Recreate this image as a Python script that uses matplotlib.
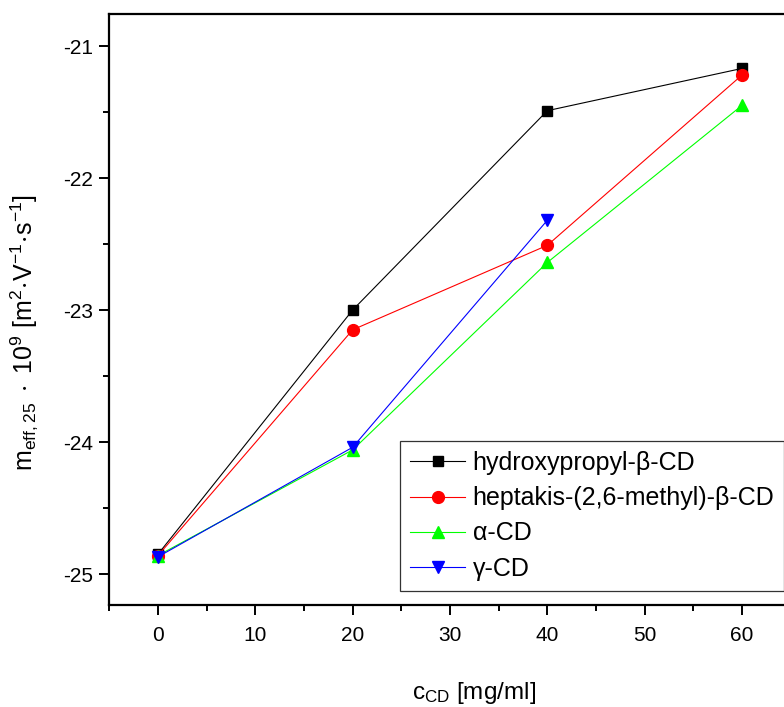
import matplotlib
matplotlib.use("Agg")
import matplotlib.pyplot as plt
from matplotlib.ticker import MultipleLocator

plt.rcParams['font.family'] = ['Liberation Sans', 'DejaVu Sans']
plt.rcParams['mathtext.fontset'] = 'custom'
plt.rcParams['mathtext.rm'] = 'Liberation Sans'
plt.rcParams['mathtext.it'] = 'Liberation Sans'
plt.rcParams['axes.unicode_minus'] = False

# Concentration of cyclodextrin [mg/ml]
conc = [0, 20, 40, 60]
conc_gamma = [0, 20, 40]

# Effective mobility values (x 1e9)
hp_beta = [-24.85, -23.00, -21.49, -21.17]
heptakis = [-24.86, -23.15, -22.51, -21.22]
alpha_cd = [-24.86, -24.06, -22.64, -21.45]
gamma_cd = [-24.87, -24.04, -22.32]

labels = ["hydroxypropyl-β-CD", "heptakis-(2,6-methyl)-β-CD", "α-CD", "γ-CD"]

fig = plt.figure(figsize=(7.84, 7.07), dpi=100)
x0, x1 = -5.0, 70.0
px_per_unit = (742 - 158) / 60.0
left_px = 158 + x0 * px_per_unit
right_px = 158 + x1 * px_per_unit
ax = fig.add_axes([left_px / 784, 1 - 605 / 707, (right_px - left_px) / 784, (605 - 14) / 707])

lw = 0.8
ax.plot(conc, hp_beta, color='black', marker='s', ms=7, lw=lw, label=labels[0])
ax.plot(conc, heptakis, color='red', marker='o', ms=8.5, lw=lw, label=labels[1])
ax.plot(conc, alpha_cd, color='#00ff00', marker='^', ms=9, lw=lw, label=labels[2])
ax.plot(conc_gamma, gamma_cd, color='blue', marker='v', ms=9, lw=lw, label=labels[3])

ax.set_xlim(x0, x1)
y_top = -21 + 32 / 132
y_bot = -25 - 31 / 132
ax.set_ylim(y_bot, y_top)

ax.xaxis.set_major_locator(MultipleLocator(10))
ax.xaxis.set_minor_locator(MultipleLocator(5))
ax.yaxis.set_major_locator(MultipleLocator(1))
ax.yaxis.set_minor_locator(MultipleLocator(0.5))
ax.set_xticks([0, 10, 20, 30, 40, 50, 60])

for s in ax.spines.values():
    s.set_linewidth(1.6)
ax.tick_params(which='both', direction='out', top=False, right=False, width=1.4, labelsize=15)
ax.tick_params(which='major', length=7)
ax.tick_params(axis='x', which='major', pad=8)
ax.tick_params(axis='y', which='major', pad=5)
ax.tick_params(which='minor', length=4)

ax.set_xlabel(r'$\mathregular{c_{CD}}$ [mg/ml]', fontsize=17.5, labelpad=25)
ax.set_ylabel(r'$\mathregular{m_{eff,25}\ \cdot\ 10^9\ [m^2\!\cdot\!V^{-1}\!\cdot\!s^{-1}]}$',
              fontsize=18)
ax.yaxis.set_label_coords(-0.088 * 784 / (right_px - left_px), (605 - 333) / 591)

leg = ax.legend(loc='upper left', bbox_to_anchor=((400 - left_px) / (right_px - left_px), 1 - (441 - 14) / 591),
                fontsize=18, frameon=True, fancybox=False, edgecolor='black',
                handlelength=2.2, handletextpad=0.3, borderpad=0.4, labelspacing=0.45,
                borderaxespad=0)
leg.get_frame().set_linewidth(0.9)

fig.savefig('out.png', dpi=100)
